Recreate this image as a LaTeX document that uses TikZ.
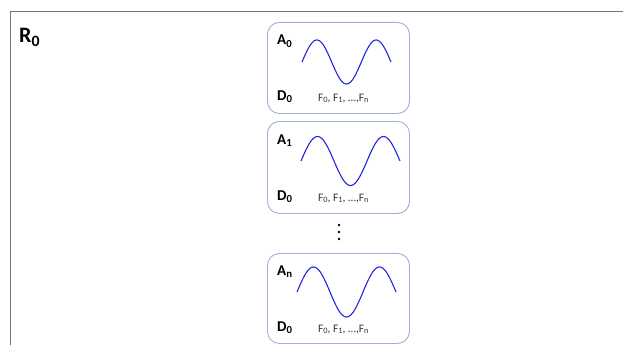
\documentclass[tikz,border=0pt]{standalone}
\usepackage{fontspec}
\setmainfont{Carlito}
\newcommand\lowsb[1]{\raisebox{-0.3ex}{\scalebox{0.72}{#1}}}
\definecolor{framegray}{HTML}{767676}
\definecolor{boxline}{HTML}{9FB0D4}
\definecolor{wave}{HTML}{2424E0}
\definecolor{ftext}{HTML}{333333}
\begin{document}
\begin{tikzpicture}[x=1pt,y=-1pt,
  panel/.style={draw=boxline,line width=0.9pt,rounded corners=12pt,minimum width=142pt,inner sep=0pt,anchor=north west},
  lab/.style={font=\fontsize{15}{18}\selectfont\bfseries,anchor=base west,inner sep=0pt},
  ftxt/.style={font=\fontsize{11.5}{14}\selectfont,text=ftext,anchor=base west,inner sep=0pt},
  sinwave/.style={draw=wave,line width=1.1pt},
  dotstyle/.style={circle,fill=black,minimum size=2.8pt,inner sep=0pt}]
\useasboundingbox (0,0) rectangle (623,345);
\draw[framegray,line width=0.9pt] (10,345) -- (10,11) -- (623,11);
\node[font=\fontsize{22}{26}\selectfont\bfseries,anchor=base west,inner sep=0pt] (r0) at (19,43) {R\lowsb{0}};
% box 1
\node[panel,minimum height=91pt] (b1) at (267,22) {};
\node[lab] (a0) at (277,45) {A\lowsb{0}};
\node[lab] (d0a) at (277,100) {D\lowsb{0}};
\node[ftxt] (f1) at (318,101) {F\lowsb{0}, F\lowsb{1}, …,F\lowsb{n}};
\draw[sinwave] plot[domain=0:540,samples=120,smooth] ({302+\x/540*89},{62-22*sin(\x)});
% box 2
\node[panel,minimum height=92pt] (b2) at (267,121) {};
\node[lab] (a1) at (277,144) {A\lowsb{1}};
\node[lab] (d0b) at (277,200) {D\lowsb{0}};
\node[ftxt] (f2) at (318,201) {F\lowsb{0}, F\lowsb{1}, …,F\lowsb{n}};
\draw[sinwave] plot[domain=0:540,samples=120,smooth] ({301+\x/540*99},{161-24.5*sin(\x)});
% dots
\node[dotstyle] (p1) at (339,225) {};
\node[dotstyle] (p2) at (339,232) {};
\node[dotstyle] (p3) at (339,239) {};
% box 3
\node[panel,minimum height=90pt] (b3) at (267,253) {};
\node[lab] (an) at (277,275) {A\lowsb{n}};
\node[lab] (d0c) at (277,331) {D\lowsb{0}};
\node[ftxt] (f3) at (318,332) {F\lowsb{0}, F\lowsb{1}, …,F\lowsb{n}};
\draw[sinwave] plot[domain=0:540,samples=120,smooth] ({297+\x/540*99},{292-25*sin(\x)});
\end{tikzpicture}
\end{document}
